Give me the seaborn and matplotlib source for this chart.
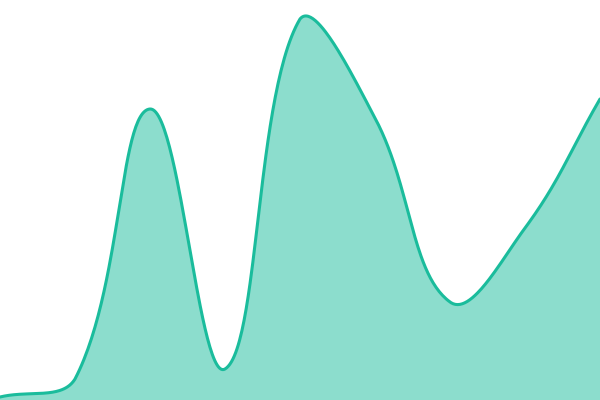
import numpy as np
import pandas as pd
import matplotlib
matplotlib.use("Agg")
import matplotlib.pyplot as plt
import seaborn as sns

# Data
positions = [0, 1, 2, 3, 4, 5, 6, 7, 8]
values = [3, 21, 291, 31, 381, 282, 98, 172, 301]

LINE_COLOR = "#1abc9c"
W, H = 600, 400
Y_MAX = 400
TENSION = 0.4


def to_px(i, v):
    return np.array([i * W / (len(positions) - 1), v * H / Y_MAX])


def chartjs_spline(xs, vs, t=TENSION, samples=60):
    pts = [to_px(x, v) for x, v in zip(xs, vs)]
    n = len(pts)
    cps = []
    for i in range(n):
        prev = pts[i - 1] if i > 0 else pts[i]
        cur = pts[i]
        nxt = pts[i + 1] if i < n - 1 else pts[i]
        d01 = np.hypot(*(cur - prev))
        d12 = np.hypot(*(nxt - cur))
        tot = d01 + d12
        s01 = d01 / tot if tot else 0
        s12 = d12 / tot if tot else 0
        cp_prev = cur - t * s01 * (nxt - prev)
        cp_next = cur + t * s12 * (nxt - prev)
        cp_prev = np.clip(cp_prev, [0, 0], [W, H])
        cp_next = np.clip(cp_next, [0, 0], [W, H])
        cps.append((cp_prev, cp_next))
    out = []
    tt = np.linspace(0, 1, samples)[:, None]
    for i in range(n - 1):
        p0, p1, p2, p3 = pts[i], cps[i][1], cps[i + 1][0], pts[i + 1]
        seg = ((1 - tt) ** 3) * p0 + 3 * ((1 - tt) ** 2) * tt * p1 + 3 * (1 - tt) * tt ** 2 * p2 + tt ** 3 * p3
        out.append(seg if i == 0 else seg[1:])
    curve = np.vstack(out)
    return curve[:, 0] * (len(positions) - 1) / W, curve[:, 1] * Y_MAX / H


cx, cy = chartjs_spline(positions, values)
df = pd.DataFrame({"x": cx, "y": cy, "order": np.arange(len(cx))})

sns.set_theme(style="white")
fig = plt.figure(figsize=(6, 4), dpi=100)
ax = fig.add_axes([0, 0, 1, 1])
ax.fill_between(df["x"], df["y"], 0, color=LINE_COLOR, alpha=0.5, linewidth=0)
sns.lineplot(data=df, x="x", y="y", sort=False, estimator=None, color=LINE_COLOR,
             linewidth=2.2, ax=ax)
ax.set_xlim(positions[0], positions[-1])
ax.set_ylim(0, Y_MAX)
ax.axis("off")
fig.savefig("out.png", dpi=100)
